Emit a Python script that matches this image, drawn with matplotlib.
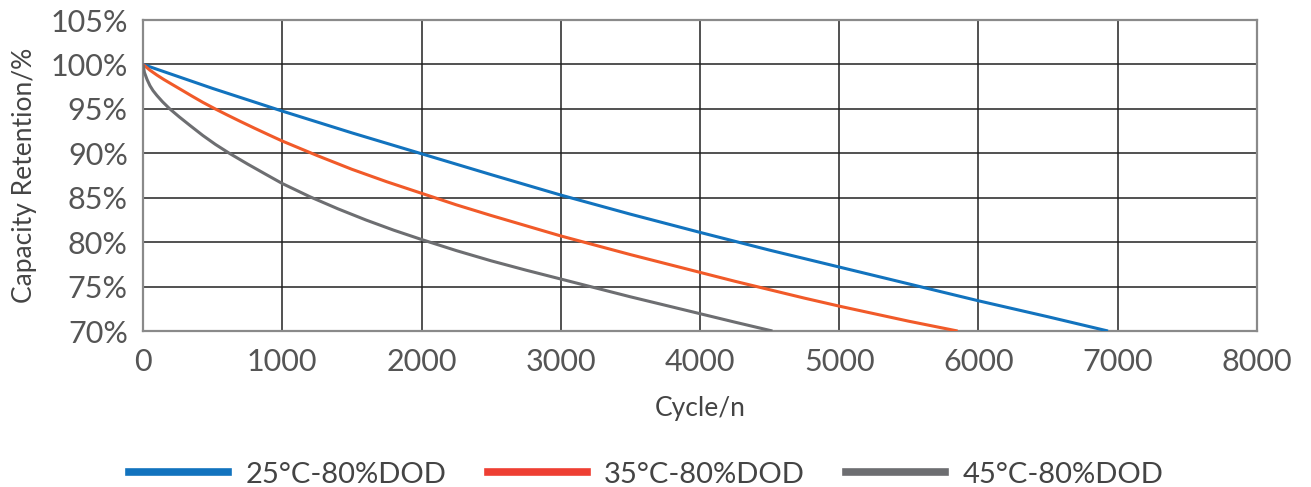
import matplotlib
matplotlib.use("Agg")
import matplotlib.pyplot as plt
from matplotlib.lines import Line2D

plt.rcParams["font.family"] = ["Lato", "DejaVu Sans"]

# values (cycles, capacity retention %)
cycles_25 = [0, 500, 1000, 1500, 2000, 2500, 3000, 3500, 4000, 4500, 5000, 5500, 6000, 6500, 6930]
retention_25 = [100, 97.3, 94.75, 92.3, 89.95, 87.6, 85.3, 83.15, 81.1, 79.1, 77.2, 75.3, 73.4, 71.6, 70]

cycles_35 = [0, 50, 100, 150, 204, 280, 350, 430, 518, 600, 700, 800, 900, 1000, 1250, 1500,
             1750, 2000, 2250, 2500, 2750, 3000, 3250, 3500, 3750, 4000, 4250, 4500, 4750,
             5000, 5250, 5500, 5850]
retention_35 = [100, 99.35, 98.8, 98.3, 97.8, 97.1, 96.45, 95.73, 95.0, 94.35, 93.58, 92.83, 92.1,
                91.38, 89.75, 88.2, 86.8, 85.5, 84.2, 83.0, 81.85, 80.7, 79.65, 78.6, 77.6, 76.6,
                75.6, 74.65, 73.7, 72.8, 71.95, 71.1, 70]

cycles_45 = [0, 10, 29, 50, 72, 100, 140, 192, 260, 340, 430, 520, 620, 750, 880, 1000, 1200,
             1400, 1600, 1800, 2000, 2250, 2500, 2750, 3000, 3250, 3500, 3750, 4000, 4250, 4520]
retention_45 = [100, 99.1, 98.3, 97.6, 97.05, 96.5, 95.8, 95.0, 94.1, 93.1, 92.0, 91.0, 90.0, 88.8,
                87.65, 86.6, 85.1, 83.75, 82.5, 81.35, 80.3, 79.05, 77.9, 76.85, 75.85, 74.85,
                73.85, 72.9, 71.95, 71.0, 70]

labels = ["25°C-80%DOD", "35°C-80%DOD", "45°C-80%DOD"]
line_colors = ["#1273BE", "#F15A29", "#6D6E71"]
legend_colors = ["#1273BE", "#EE3F33", "#6D6E71"]

x_ticks = [0, 1000, 2000, 3000, 4000, 5000, 6000, 7000, 8000]
y_ticks = [70, 75, 80, 85, 90, 95, 100, 105]

fig = plt.figure(figsize=(13.11, 4.87), dpi=100)
ax = fig.add_axes([0.1091, 0.3203, 0.8497, 0.6386])

for x, y, c in zip([cycles_25, cycles_35, cycles_45],
                   [retention_25, retention_35, retention_45], line_colors):
    ax.plot(x, y, color=c, lw=2.2, solid_capstyle="butt", zorder=3)

ax.set_xlim(0, 8000)
ax.set_ylim(70, 105)
ax.set_xticks(x_ticks)
ax.set_yticks(y_ticks)
ax.set_yticklabels([f"{v}%" for v in y_ticks])
ax.grid(True, color="#222222", lw=1.1)
ax.set_axisbelow(True)
for s in ax.spines.values():
    s.set_color("#8a8a8a")
    s.set_linewidth(1.6)

ax.tick_params(axis="both", length=0, labelsize=22, colors="#555555")
ax.tick_params(axis="y", pad=11)
ax.tick_params(axis="x", pad=12)

ax.set_xlabel("Cycle/n", fontsize=19, color="#444444")
ax.set_ylabel("Capacity Retention/%", fontsize=19, color="#444444")
ax.xaxis.set_label_coords(0.5, -0.21)
ax.yaxis.set_label_coords(-0.095, 0.5)

handles = [Line2D([], [], color=c, lw=5.5) for c in legend_colors]
fig.legend(handles, labels, loc="lower center", bbox_to_anchor=(0.493, -0.055), ncol=3,
           frameon=False, handlelength=3.4, handletextpad=0.6, columnspacing=1.4,
           labelcolor="#444444", prop={"size": 21})

fig.savefig("out.png", dpi=100)
